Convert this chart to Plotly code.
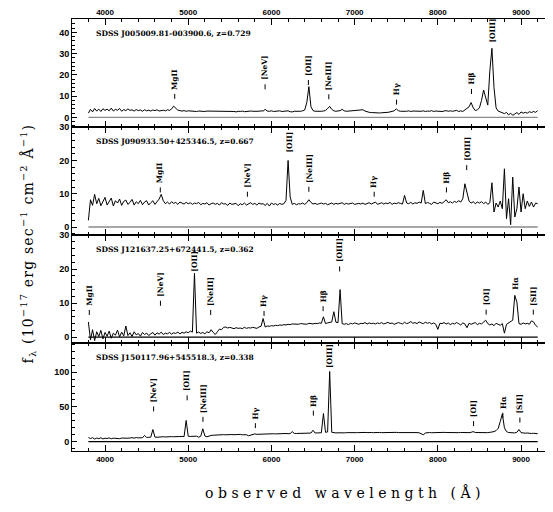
import numpy as np
import plotly.graph_objects as go

# spectra sampled every 25 A in the observed frame, 3800-9200 A
WAVE_START = 3800
WAVE_STEP = 25

objects = ["SDSS J005009.81-003900.6", "SDSS J090933.50+425346.5",
           "SDSS J121637.25+672441.5", "SDSS J150117.96+545518.3"]
redshifts = [0.729, 0.667, 0.362, 0.338]

flux_j0050 = [
    2.0, 3.8, 2.6, 4.2, 3.0, 3.9, 2.8, 4.1, 3.3, 3.9,
    3.1, 4.4, 3.0, 3.8, 3.4, 4.2, 2.9, 3.7, 3.2, 4.0,
    3.3, 3.6, 3.0, 3.7, 3.2, 3.5, 2.9, 3.6, 3.1, 3.4,
    3.0, 3.5, 3.2, 3.6, 3.0, 3.3, 3.4, 3.1, 3.6, 3.3,
    4.0, 5.3, 4.4, 3.4, 3.2, 3.0, 3.2, 2.9, 3.1, 3.0,
    2.9, 3.1, 2.8, 3.0, 2.9, 3.1, 2.8, 3.0, 3.0, 2.8,
    2.9, 3.0, 2.7, 2.9, 3.0, 2.8, 2.9, 2.7, 2.9, 2.8,
    2.8, 2.6, 2.9, 2.8, 3.0, 2.7, 2.9, 2.8, 3.0, 2.9,
    2.8, 3.0, 2.9, 3.1, 3.0, 3.8, 3.0, 2.9, 3.1, 2.8,
    3.0, 2.9, 3.1, 2.8, 3.0, 2.9, 3.1, 2.7, 2.6, 2.9,
    2.8, 3.0, 2.9, 3.1, 3.5, 7.0, 14.5, 5.0, 3.2, 2.9,
    2.8, 3.0, 2.9, 3.0, 3.3, 4.2, 5.2, 3.8, 3.1, 2.9,
    3.0, 3.2, 3.8, 3.1, 2.9, 3.0, 2.8, 2.9, 3.0, 3.1,
    3.2, 3.4, 3.6, 3.0, 2.6, 2.4, 2.3, 2.2, 2.2, 2.1,
    2.1, 2.2, 2.2, 2.3, 2.4, 2.6, 2.8, 3.1, 4.0, 3.2,
    2.9, 2.8, 3.0, 2.9, 3.1, 2.8, 3.0, 2.9, 2.8, 3.0,
    2.9, 3.1, 2.8, 3.0, 2.9, 3.2, 2.8, 3.0, 2.9, 3.1,
    2.8, 3.0, 3.2, 2.9, 3.1, 2.9, 3.0, 3.3, 2.8, 3.1,
    2.8, 3.6, 4.2, 5.0, 7.0, 4.5, 3.2, 3.6, 4.5, 8.0,
    12.9, 9.0, 5.8, 22.0, 32.5, 14.0, 4.5, 3.0, 2.6, 2.2,
    1.8, 2.4, 1.2, 2.0, 1.0, 1.6, 2.3, 1.4, 2.6, 2.0,
    2.4, 2.0, 2.7, 2.3, 2.8, 2.4, 3.2,
]

flux_j0909 = [
    2.0, 8.2, 6.5, 9.8, 7.0, 8.6, 6.4, 7.8, 8.9, 6.6,
    7.5, 8.7, 6.3, 7.9, 7.2, 8.4, 6.5, 7.7, 8.1, 6.8,
    7.4, 8.3, 6.6, 7.6, 7.0, 8.0, 6.7, 7.5, 7.9, 6.6,
    7.3, 7.9, 6.8, 7.6, 8.4, 9.8, 7.9, 7.0, 7.5, 6.9,
    7.6, 7.1, 7.4, 6.8, 7.5, 7.2, 6.9, 7.4, 7.0, 7.3,
    6.8, 7.2, 7.0, 7.4, 6.7, 7.1, 6.9, 7.3, 6.6, 7.0,
    7.2, 6.8, 7.1, 6.6, 7.3, 6.9, 7.0, 6.5, 7.2, 6.8,
    6.9, 7.1, 6.4, 7.0, 6.7, 7.2, 6.6, 7.0, 7.3, 6.8,
    7.1, 6.6, 7.2, 6.9, 7.0, 6.5, 7.1, 6.3, 7.2, 6.8,
    7.0, 6.6, 7.1, 6.8, 7.0, 8.0, 20.0, 9.0, 6.8, 7.1,
    6.7, 7.0, 6.9, 7.2, 6.8, 7.3, 8.2, 7.4, 6.9, 7.1,
    6.8, 7.0, 7.2, 6.9, 7.1, 6.7, 7.0, 7.2, 6.8, 7.1,
    6.9, 7.0, 7.3, 6.8, 7.1, 6.9, 7.0, 7.2, 6.8, 7.0,
    7.1, 6.9, 7.2, 6.8, 7.0, 7.3, 6.9, 7.1, 7.5, 6.8,
    7.1, 7.3, 6.9, 7.2, 7.0, 7.4, 6.8, 7.2, 7.0, 7.3,
    7.1, 6.9, 9.5, 7.2, 7.0, 7.4, 6.9, 7.3, 7.1, 7.5,
    7.2, 11.0, 7.0, 7.4, 7.1, 6.8, 7.5, 7.2, 7.0, 7.4,
    7.1, 7.6, 8.2, 7.3, 7.6, 7.2, 7.7, 7.4, 7.9, 7.5,
    8.5, 13.0, 10.0, 7.8, 7.2, 7.6, 7.0, 7.5, 7.2, 7.6,
    7.0, 7.5, 6.8, 7.3, 13.3, 4.5, 7.2, 6.0, 7.8, 5.5,
    17.5, 2.5, 8.5, 0.7, 15.0, 3.0, 5.5, 12.0, 4.5, 10.0,
    5.5, 7.8, 6.2, 7.5, 6.0, 7.2, 7.0,
]

flux_j1216 = [
    4.5, -0.8, 2.2, -1.0, 1.6, 0.2, 2.0, -0.5, 1.4, 0.3,
    1.8, -0.3, 1.2, 0.6, 2.1, 0.1, 1.5, 0.4, 3.3, 0.5,
    1.3, 0.2, 1.6, 0.7, 1.1, 0.3, 1.4, 0.8, 1.2, 0.5,
    1.0, 1.4, 0.6, 1.3, 0.9, 1.5, 0.8, 1.2, 1.0, 1.4,
    0.9, 1.3, 1.1, 1.5, 1.0, 1.4, 1.2, 1.6, 1.3, 1.8,
    1.5, 18.8, 1.2, 1.5, 1.1, 1.4, 1.0, 1.6, 1.3, 2.2,
    1.4, 0.8, 1.6, 2.4, 2.2, 2.9, 3.0, 2.7, 2.9, 2.6,
    2.5, 2.8, 2.6, 2.7, 2.5, 2.9, 2.6, 2.8, 2.7, 2.9,
    2.8, 2.6, 3.0, 3.2, 5.5, 3.0, 3.3, 3.2, 3.4, 3.3,
    3.5, 3.4, 3.6, 3.5, 3.7, 3.6, 3.8, 3.7, 3.9, 3.8,
    3.9, 3.8, 4.0, 3.9, 4.0, 3.8, 4.1, 4.0, 3.9, 4.1,
    4.0, 4.2, 4.1, 6.0, 4.0, 4.2, 4.3, 4.5, 7.5, 4.4,
    4.3, 14.0, 4.0, 3.8, 4.0, 3.7, 4.1, 3.9, 4.2, 4.0,
    3.8, 4.1, 4.0, 4.3, 3.9, 4.2, 4.0, 4.1, 3.9, 4.2,
    4.0, 4.3, 3.9, 4.1, 4.4, 4.0, 4.2, 3.8, 4.1, 4.3,
    4.1, 3.9, 4.4, 4.0, 4.2, 4.6, 4.1, 4.3, 4.0, 4.5,
    4.2, 4.0, 4.4, 4.1, 4.3, 3.9, 4.2, 3.8, 2.3, 4.1,
    4.0, 4.3, 3.9, 4.2, 3.7, 4.1, 3.9, 4.3, 4.0, 3.6,
    4.2, 3.9, 2.8, 4.1, 3.8, 4.0, 4.3, 3.7, 4.1, 3.9,
    4.4, 5.0, 4.0, 3.6, 3.9, 3.4, 4.1, 3.8, 3.5, 4.0,
    1.2, 3.8, 4.2, 4.6, 5.0, 12.3, 10.3, 4.0, 3.8, 4.2,
    3.9, 4.1, 3.8, 4.8, 4.5, 3.5, 3.0,
]

flux_j1501 = [
    6.0, 4.5, 5.8, 3.8, 5.2, 4.4, 5.6, 4.0, 5.0, 4.6,
    5.4, 4.2, 5.1, 4.8, 5.5, 4.3, 5.2, 4.9, 5.6, 5.0,
    5.3, 5.8, 5.1, 5.9, 5.5, 6.1, 5.7, 9.0, 6.0, 6.3,
    6.5, 17.5, 6.6, 6.4, 6.9, 6.7, 7.1, 6.8, 7.2, 7.0,
    7.3, 7.1, 7.5, 7.2, 7.4, 7.6, 7.3, 30.5, 7.8, 7.5,
    7.9, 7.6, 8.0, 6.5, 7.8, 18.5, 8.2, 7.0, 8.5, 9.0,
    9.3, 9.6, 9.8, 10.0, 9.7, 10.1, 9.9, 10.2, 9.8, 10.3,
    10.0, 10.4, 10.1, 10.5, 9.9, 10.3, 10.0, 8.5, 9.2, 10.0,
    11.2, 10.6, 10.8, 11.0, 10.7, 11.1, 10.9, 11.3, 11.0, 11.4,
    11.2, 11.5, 11.3, 11.6, 11.4, 11.8, 11.5, 11.7, 14.5, 11.9,
    11.8, 12.0, 11.9, 12.2, 12.0, 12.3, 12.1, 12.4, 16.5, 12.5,
    12.6, 12.7, 12.9, 40.5, 13.5, 14.0, 101.0, 13.5, 12.8, 12.6,
    12.8, 12.5, 12.9, 12.7, 13.0, 12.8, 13.1, 12.9, 13.2, 13.0,
    13.1, 13.4, 13.0, 13.3, 13.1, 13.5, 13.2, 13.0, 13.4, 13.1,
    13.3, 13.0, 13.2, 13.4, 13.1, 13.3, 13.0, 13.2, 13.4, 13.1,
    13.2, 13.0, 13.3, 13.1, 12.9, 13.2, 13.0, 13.3, 13.1, 12.8,
    11.5, 10.0, 12.5, 13.0, 13.2, 12.9, 13.1, 13.3, 13.0, 13.2,
    13.1, 13.4, 13.2, 13.0, 13.3, 13.1, 13.4, 13.2, 13.0, 13.3,
    13.1, 13.4, 13.2, 13.0, 13.5, 14.5, 13.2, 13.0, 12.8, 13.1,
    12.9, 13.2, 13.0, 13.4, 13.8, 14.5, 16.0, 19.0, 29.0, 40.0,
    20.0, 14.5, 13.2, 12.8, 13.0, 12.6, 13.5, 17.5, 13.0, 12.4,
    12.2, 12.5, 12.0, 11.8, 12.1, 11.6, 11.5,
]

rest_wave = {"MgII": 2798, "[NeV]": 3426, "[OII]": 3727, "[NeIII]": 3869,
             "Hγ": 4340, "Hβ": 4861, "[OIII]": 5007, "[OI]": 6300,
             "Hα": 6563, "[SII]": 6716}

# emission-line labels: name, height of label foot (data units), draw tick below?
lines_j0050 = ["MgII", "[NeV]", "[OII]", "[NeIII]", "Hγ", "Hβ", "[OIII]"]
label_y_j0050 = [12.5, 17.0, 19.0, 12.3, 9.8, 14.8, 34.5]
tick_j0050 = [1, 1, 1, 1, 1, 1, 0]

lines_j0909 = ["MgII", "[NeV]", "[OII]", "[NeIII]", "Hγ", "Hβ", "[OIII]"]
label_y_j0909 = [12.8, 11.5, 22.0, 13.0, 11.5, 12.8, 19.5]
tick_j0909 = [1, 1, 0, 1, 1, 1, 1]

lines_j1216 = ["MgII", "[NeV]", "[OII]", "[NeIII]", "Hγ", "Hβ", "[OIII]",
               "[OI]", "Hα", "[SII]"]
label_y_j1216 = [8.9, 11.6, 19.0, 8.9, 8.6, 10.0, 21.7, 9.0, 13.8, 9.0]
tick_j1216 = [1, 1, 0, 1, 1, 1, 1, 1, 0, 1]

lines_j1501 = ["[NeV]", "[OII]", "[NeIII]", "Hγ", "Hβ", "[OIII]", "[OI]",
               "Hα", "[SII]"]
label_y_j1501 = [55, 71, 40, 31, 49, 104, 34, 46, 39]
tick_j1501 = [1, 1, 1, 1, 1, 0, 1, 1, 1]

panels = [
    (flux_j0050, lines_j0050, label_y_j0050, tick_j0050),
    (flux_j0909, lines_j0909, label_y_j0909, tick_j0909),
    (flux_j1216, lines_j1216, label_y_j1216, tick_j1216),
    (flux_j1501, lines_j1501, label_y_j1501, tick_j1501),
]

X_RANGE = [3603, 9372]
Y_RANGES = [[-4.5, 46.3], [-2.4, 30.05], [-1.7, 30.05], [-13.4, 142]]
Y_DTICK = [10, 10, 10, 50]
Y_MINOR = [2, 2, 2, 10]
ZERO_COLORS = ["#8a8a8a", "#8a8a8a", "black", "black"]

# the page body adds an 8 px margin, so the figure is 8 px smaller than the window
W, H = 545, 504
MARGIN = dict(l=64, r=1, t=11, b=61, pad=0)
PANEL_PX = (H - MARGIN["t"] - MARGIN["b"]) / 4

TICKFONT = dict(family="Liberation Sans", size=8, color="black", weight="bold")
LABELFONT = dict(family="DejaVu Serif", size=7.5, color="black", weight="bold")
NAMEFONT = dict(family="DejaVu Serif", size=7.5, color="black", weight="bold")
TITLEFONT = dict(family="DejaVu Serif", size=14, color="black")

fig = go.Figure()
shapes = []
annotations = []
layout = {}

for k, (flux, lines, label_y, has_tick) in enumerate(panels):
    n = "" if k == 0 else str(k + 1)
    xa, ya = "x" + n, "y" + n
    z = redshifts[k]
    wave = WAVE_START + WAVE_STEP * np.arange(len(flux))

    fig.add_trace(go.Scatter(
        x=[wave[0], wave[-1]], y=[0, 0], mode="lines",
        line=dict(color=ZERO_COLORS[k], width=1.3),
        xaxis=xa, yaxis=ya, hoverinfo="skip", showlegend=False))
    fig.add_trace(go.Scatter(
        x=wave, y=flux, mode="lines", line=dict(color="black", width=1),
        xaxis=xa, yaxis=ya, hoverinfo="skip", showlegend=False))

    top = 1 - 0.25 * k
    layout["xaxis" + n] = dict(
        domain=[0, 1], range=X_RANGE, anchor=ya, side="top" if k == 0 else "bottom",
        showticklabels=k in (0, 3), dtick=1000, tick0=0, ticks="inside", ticklen=6,
        minor=dict(dtick=200, ticks="inside", ticklen=3, tickcolor="black"),
        mirror="allticks", showline=True, linecolor="black", linewidth=1,
        showgrid=False, zeroline=False, tickfont=TICKFONT, tickcolor="black",
        automargin=False)
    layout["yaxis" + n] = dict(
        domain=[top - 0.25, top], range=Y_RANGES[k], anchor=xa,
        dtick=Y_DTICK[k], tick0=0, ticks="inside", ticklen=5,
        minor=dict(dtick=Y_MINOR[k], ticks="inside", ticklen=3, tickcolor="black"),
        mirror="allticks", showline=True, linecolor="black", linewidth=1,
        showgrid=False, zeroline=False, tickfont=dict(TICKFONT, size=9),
        tickcolor="black", automargin=False)

    annotations.append(dict(
        text=f"{objects[k]}, z={z:.3f}",
        x=3880, xref=xa, y=top, yref="paper", xanchor="left", yanchor="top",
        yshift=-8.5, borderpad=0, showarrow=False, font=NAMEFONT))

    ppu = PANEL_PX / (Y_RANGES[k][1] - Y_RANGES[k][0])
    for name, ly, tk in zip(lines, label_y, has_tick):
        lam = rest_wave[name] * (1 + z)
        annotations.append(dict(
            text=name, x=lam, xref=xa, y=ly, yref=ya, textangle=-90,
            xanchor="center", yanchor="bottom", borderpad=0, showarrow=False,
            font=LABELFONT))
        if tk:
            shapes.append(dict(
                type="line", xref=xa, yref=ya, x0=lam, x1=lam,
                y0=ly - 8 / ppu, y1=ly - 3 / ppu,
                line=dict(color="black", width=1)))

# thicker borders between stacked panels
for yb in (0.25, 0.5, 0.75):
    shapes.append(dict(type="line", xref="paper", yref="paper", x0=0, x1=1,
                       y0=yb, y1=yb, line=dict(color="black", width=2)))

annotations.append(dict(
    text='<span style="letter-spacing:4.5px">observed wavelength (Å)</span>',
    x=0.569, y=-0.097, xref="paper", yref="paper", xanchor="center",
    yanchor="middle", showarrow=False, font=TITLEFONT))
annotations.append(dict(
    text='<span style="letter-spacing:1.2px">f<sub>λ</sub> (10<sup>−17</sup> erg sec<sup>−1</sup> '
         'cm<sup>−2</sup> Å<sup>−1</sup>)</span>',
    x=-0.092, y=0.48, xref="paper", yref="paper", xanchor="center",
    yanchor="middle", textangle=-90, showarrow=False, font=TITLEFONT))

fig.update_layout(
    template="none", width=W, height=H, margin=MARGIN, paper_bgcolor="white",
    plot_bgcolor="white", showlegend=False, shapes=shapes,
    annotations=annotations, **layout)

fig.write_html("out.html")
